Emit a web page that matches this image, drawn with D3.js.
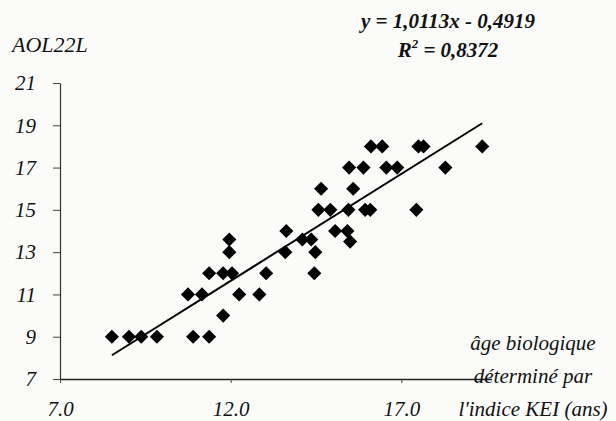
<!DOCTYPE html>
<html>
<head>
<meta charset="utf-8">
<script src="https://cdn.jsdelivr.net/npm/d3@7"></script>
<style>
  body { margin: 0; background: #fbfbfa; }
  svg { display: block; }
  text { font-family: "Liberation Serif", "Times New Roman", serif; font-style: italic; fill: #111; }
</style>
</head>
<body>
<svg id="chart" width="616" height="421"></svg>
<script>
  // KEI biological age (x) vs AOL22L (y)
  var keiAge = [8.52, 9.02, 9.38, 9.84, 10.90, 11.37,
    11.78,
    10.75, 11.16, 12.25, 12.84,
    11.37, 11.78, 12.04, 13.04, 14.45,
    11.96, 13.60, 14.48,
    11.96, 14.10, 14.36, 15.50,
    13.63, 15.06, 15.42,
    14.57, 14.92, 15.45, 15.94, 16.09, 17.44,
    14.65, 15.59,
    15.47, 15.89, 16.56, 16.88, 18.29,
    16.11, 16.44, 17.50, 17.65, 19.37];
  var aol22l = [9, 9, 9, 9, 9, 9,
    10,
    11, 11, 11, 11,
    12, 12, 12, 12, 12,
    13, 13, 13,
    13.6, 13.6, 13.6, 13.5,
    14, 14, 14,
    15, 15, 15, 15, 15, 15,
    16, 16,
    17, 17, 17, 17, 17,
    18, 18, 18, 18, 18];

  var xTicks = [7, 12, 17];
  var yTicks = [7, 9, 11, 13, 15, 17, 19, 21];
  var slope = 1.0113, intercept = -0.4919;
  var eqLabel = 'y = 1,0113x - 0,4919';
  var r2Value = '0,8372';
  var yTitle = 'AOL22L';
  var xTitle = ['âge biologique', 'déterminé par', "l'indice KEI (ans)"];

  var points = keiAge.map(function(x, i) { return { x: x, y: aol22l[i] }; });

  var svg = d3.select('#chart');

  var x = d3.scaleLinear().domain([7, 22]).range([60, 572]);
  var y = d3.scaleLinear().domain([7, 21]).range([379, 83]);

  // x axis
  var xAxis = svg.append('g')
    .attr('transform', 'translate(0,' + y(7) + ')')
    .call(d3.axisBottom(x).tickValues(xTicks).tickSize(4).tickSizeOuter(0)
      .tickFormat(function(d) { return d3.format('.1f')(d); }));
  xAxis.select('.domain').attr('stroke', '#222').attr('stroke-width', 1.3);
  xAxis.selectAll('.tick line').attr('stroke', '#444');
  xAxis.selectAll('.tick text')
    .attr('y', 22)
    .style('font-size', '21px')
    .style('font-family', '"Liberation Serif", serif');

  // y axis
  var yAxis = svg.append('g')
    .attr('transform', 'translate(' + x(7) + ',0)')
    .call(d3.axisLeft(y).tickValues(yTicks).tickSize(7).tickSizeOuter(0));
  yAxis.select('.domain').attr('stroke', '#333').attr('stroke-width', 1.2);
  yAxis.selectAll('.tick line').attr('stroke', '#444');
  yAxis.selectAll('.tick text')
    .attr('x', -24)
    .style('font-size', '21px')
    .style('font-family', '"Liberation Serif", serif');

  // trend line across the data range
  var xExtent = d3.extent(keiAge);
  svg.append('line')
    .attr('x1', x(xExtent[0]))
    .attr('y1', y(slope * xExtent[0] + intercept))
    .attr('x2', x(xExtent[1]))
    .attr('y2', y(slope * xExtent[1] + intercept))
    .attr('stroke', '#000')
    .attr('stroke-width', 2);

  // diamonds
  var diamond = d3.symbol().type(d3.symbolSquare).size(100);
  svg.append('g').selectAll('path')
    .data(points)
    .enter().append('path')
    .attr('d', diamond)
    .attr('fill', '#000')
    .attr('transform', function(d) { return 'translate(' + x(d.x) + ',' + y(d.y) + ') rotate(45)'; });

  // x axis title box, covers the end of the axis like the original
  svg.append('rect')
    .attr('x', 492).attr('y', 372).attr('width', 124).attr('height', 10)
    .attr('fill', '#fbfbfa');

  svg.append('g').selectAll('text')
    .data(xTitle)
    .enter().append('text')
    .attr('x', 533)
    .attr('y', function(d, i) { return 350 + i * 33; })
    .attr('text-anchor', 'middle')
    .style('font-size', '21px')
    .text(function(d) { return d; });

  svg.append('text')
    .attr('x', 12).attr('y', 52)
    .style('font-size', '22px')
    .text(yTitle);

  // regression equation
  svg.append('text')
    .attr('x', 448).attr('y', 28)
    .attr('text-anchor', 'middle')
    .style('font-size', '21px')
    .style('font-weight', 'bold')
    .text(eqLabel);

  var r2 = svg.append('text')
    .attr('x', 448).attr('y', 57)
    .attr('text-anchor', 'middle')
    .style('font-size', '21px')
    .style('font-weight', 'bold');
  r2.append('tspan').text('R');
  r2.append('tspan').attr('dy', -9).style('font-size', '13px').text('2');
  r2.append('tspan').attr('dy', 9).text('  = ' + r2Value);
</script>
</body>
</html>
